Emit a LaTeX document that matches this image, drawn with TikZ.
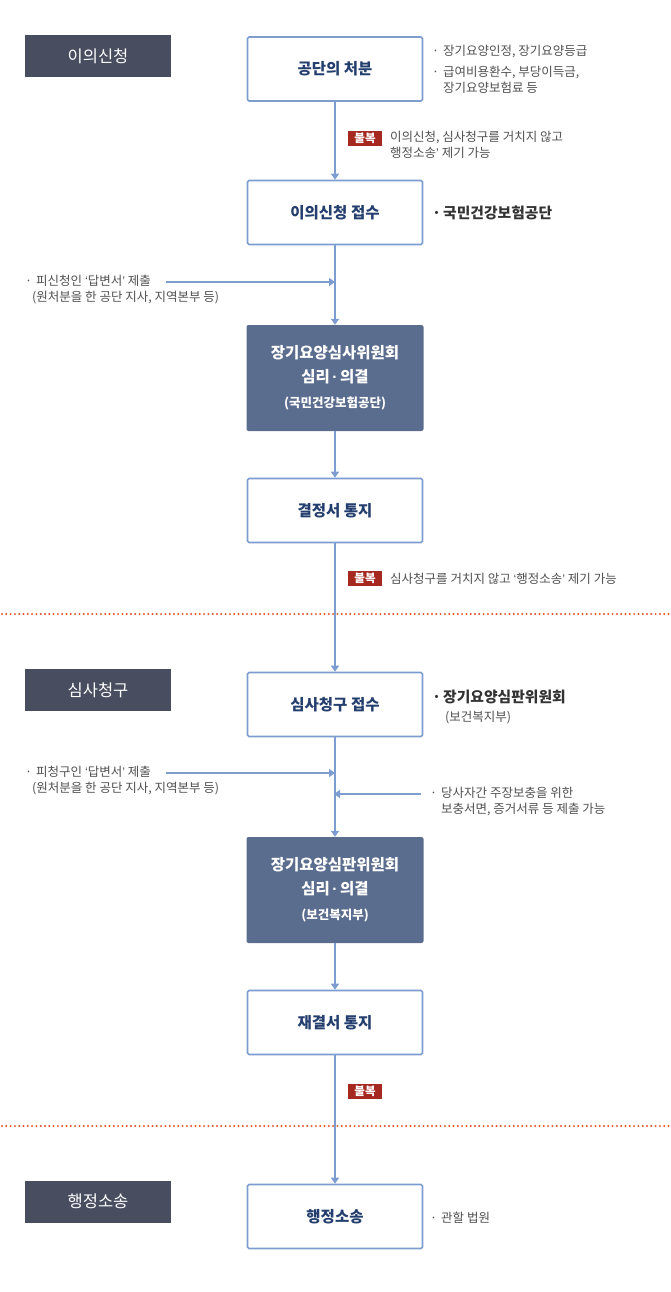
\documentclass[tikz,border=0pt]{standalone}
\usepackage{fontspec}
\setmainfont{Noto Sans CJK KR}
\newfontfamily\latinq{Liberation Sans}
\usetikzlibrary{arrows.meta}
\definecolor{boxline}{RGB}{125,157,208}
\definecolor{navy}{RGB}{36,62,110}
\definecolor{darkfill}{RGB}{91,109,142}
\definecolor{labelfill}{RGB}{72,77,96}
\definecolor{badgered}{RGB}{166,41,33}
\definecolor{dotred}{RGB}{226,80,40}
\definecolor{graytext}{RGB}{80,80,80}
\newcommand\mybul{\makebox[11pt][l]{·}}
\newcommand\myind{\hspace*{11pt}}
\newcommand\myoq{{\latinq ‘}}
\newcommand\mycq{{\latinq ’}}
\newcommand\mydot{{\latinq\,·\,}}
\begin{document}
\begin{tikzpicture}[x=1pt,y=-1pt,
  stagebox/.style={draw=boxline, line width=1.6pt, rounded corners=1.5pt, fill=white,
    minimum width=175pt, minimum height=64pt, text=navy, inner sep=0pt,
    font=\fontsize{15.5}{18}\selectfont\bfseries, align=center},
  darkbox/.style={fill=darkfill, draw=none, rounded corners=2pt,
    minimum width=177pt, minimum height=106pt, text=white, inner sep=0pt, align=center,
    font=\fontsize{15.5}{24}\selectfont\bfseries},
  sectlabel/.style={fill=labelfill, minimum width=146pt, minimum height=42pt,
    inner sep=0pt, text=white, font=\fontsize{16.5}{20}\selectfont},
  badge/.style={fill=badgered, text=white, font=\fontsize{11.5}{12}\selectfont\bfseries,
    inner sep=0pt, minimum width=34pt, minimum height=15pt},
  note/.style={text=graytext, font=\fontsize{12.5}{16}\selectfont, align=left, inner sep=0pt, anchor=west},
  bignote/.style={text=black!80, font=\fontsize{14.8}{18}\selectfont\bfseries, inner sep=0pt, anchor=west},
  flow/.style={draw=boxline, line width=1.5pt, -{Triangle[width=8pt,length=6pt]}},
  divider/.style={draw=dotred, line width=2.2pt, dash pattern=on 0pt off 4.3pt, line cap=round}
]
\useasboundingbox (0,0) rectangle (670,1292);

% dividers
\draw[divider] (2,614) -- (670,614);
\draw[divider] (2,1126) -- (670,1126);

% section labels
\node[sectlabel] (l1) at (98,56) {이의신청};
\node[sectlabel] (l2) at (98,690) {심사청구};
\node[sectlabel] (l3) at (98,1201.5) {행정소송};

% main flow
\node[stagebox] (b1) at (335,69) {공단의 처분};
\node[stagebox] (b2) at (335,212.5) {이의신청 접수};
\node[darkbox] (d1) at (335,378) {장기요양심사위원회\\심리\mydot 의결\\[1pt]
  {\fontsize{12.5}{20}\selectfont (국민건강보험공단)}};
\node[stagebox] (b3) at (335,510.5) {결정서 통지};
\node[stagebox] (b4) at (335,704.5) {심사청구 접수};
\node[darkbox] (d2) at (335,890) {장기요양심판위원회\\심리\mydot 의결\\[1pt]
  {\fontsize{12.5}{20}\selectfont (보건복지부)}};
\node[stagebox] (b5) at (335,1022.5) {재결서 통지};
\node[stagebox] (b6) at (335,1216.5) {행정소송};

% junctions for side inputs
\coordinate (j1) at (335,282);
\coordinate (s1) at (166,282);
\coordinate (j2) at (335,773);
\coordinate (s2) at (166,773);
\coordinate (j3) at (335,794);
\coordinate (s3) at (421,794);

\draw[flow] (b1) -- (b2);
\draw[flow] (b2) -- (d1);
\draw[flow] (d1) -- (b3);
\draw[flow] (b3) -- (b4);
\draw[flow] (b4) -- (d2);
\draw[flow] (d2) -- (b5);
\draw[flow] (b5) -- (b6);
\draw[flow] (s1) -- (j1);
\draw[flow] (s2) -- (j2);
\draw[flow, shorten >=-1pt] (s3) -- (j3);

% badges
\node[badge] (g1) at (365,138.5) {불복};
\node[badge] (g2) at (365,578.5) {불복};
\node[badge] (g3) at (365,1091.5) {불복};

% notes
\node[note] (n1) at (432,52) {\mybul 장기요양인정, 장기요양등급};
\node[note, anchor=north west] (n2) at (432,66) {\mybul 급여비용환수, 부당이득금,\\\myind 장기요양보험료 등};
\node[note] (n3) at (390,144.5) {이의신청, 심사청구를 거치지 않고\\행정소송\mycq{} 제기 가능};
\node[bignote] (n4) at (432,213) {\mybul 국민건강보험공단};
\node[note] (n5) at (25,290) {\mybul 피신청인 \myoq 답변서\mycq{} 제출\\\hspace*{7pt}(원처분을 한 공단 지사, 지역본부 등)};
\node[note] (n6) at (390,579) {심사청구를 거치지 않고 \myoq 행정소송\mycq{} 제기 가능};
\node[bignote] (n7) at (432,697) {\mybul 장기요양심판위원회};
\node[note] (n8) at (445,718) {(보건복지부)};
\node[note] (n9) at (25,781) {\mybul 피청구인 \myoq 답변서\mycq{} 제출\\\hspace*{7pt}(원처분을 한 공단 지사, 지역본부 등)};
\node[note] (n10) at (430,801) {\mybul 당사자간 주장보충을 위한\\\myind 보충서면, 증거서류 등 제출 가능};
\node[note] (n11) at (430,1218) {\mybul 관할 법원};
\end{tikzpicture}
\end{document}
